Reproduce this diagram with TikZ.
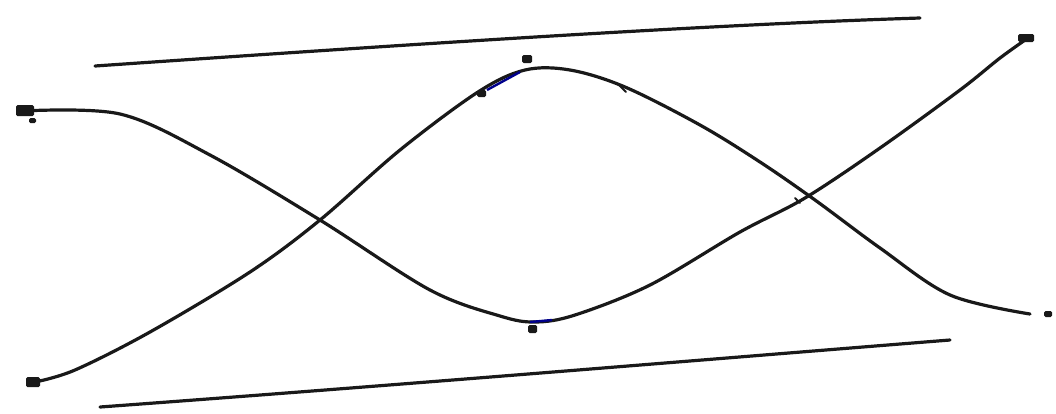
\documentclass[tikz,border=0pt]{standalone}
\begin{document}
\begin{tikzpicture}[x=1pt,y=-1pt,
  stroke/.style={line width=3.2pt,line cap=round,line join=round,black!90},
  blob/.style={fill=black!90,rounded corners=1.5pt},
  inkblue/.style={line width=2.4pt,blue!55!black}]
\useasboundingbox (0,0) rectangle (1056,413);
% upper and lower rails
\draw[stroke] (95,66) .. controls (400,45) and (700,25) .. (920,18);
\draw[stroke] (100,407) .. controls (400,385) and (700,360) .. (950,340);
% curve falling from upper left to the trough, then rising to upper right
\draw[stroke] plot[smooth,tension=0.55] coordinates {(22,111) (120,114) (210,155) (320,220) (430,290) (500,316) (535,322) (575,315) (650,285) (740,232) (805,198) (880,148) (960,90) (1000,58) (1028,38)};
% curve rising from lower left to the crest, then falling to lower right
\draw[stroke] plot[smooth,tension=0.55] coordinates {(35,382) (75,370) (150,332) (250,272) (320,220) (400,150) (478,92) (525,70) (570,70) (625,87) (700,125) (760,162) (815,200) (880,248) (950,295) (1030,314)};
% end marks
\fill[blob] (16,105) rectangle (34,116);
\fill[blob] (29,118) rectangle (36,123);
\fill[blob] (26,377) rectangle (40,387);
\fill[blob] (1018,34) rectangle (1034,42);
\fill[blob] (1044,311) rectangle (1052,317);
\fill[blob] (522,55) rectangle (532,63);
\fill[blob] (528,325) rectangle (537,333);
\fill[blob] (477,90) rectangle (486,97);
% small ticks
\draw[stroke,line width=1.8pt] (618,84) -- (626,92);
\draw[stroke,line width=1.8pt] (795,198) -- (800,203);
% blue ink traces
\draw[inkblue] (487,90) -- (520,72);
\draw[inkblue] (530,322) -- (552,320);
\end{tikzpicture}
\end{document}
